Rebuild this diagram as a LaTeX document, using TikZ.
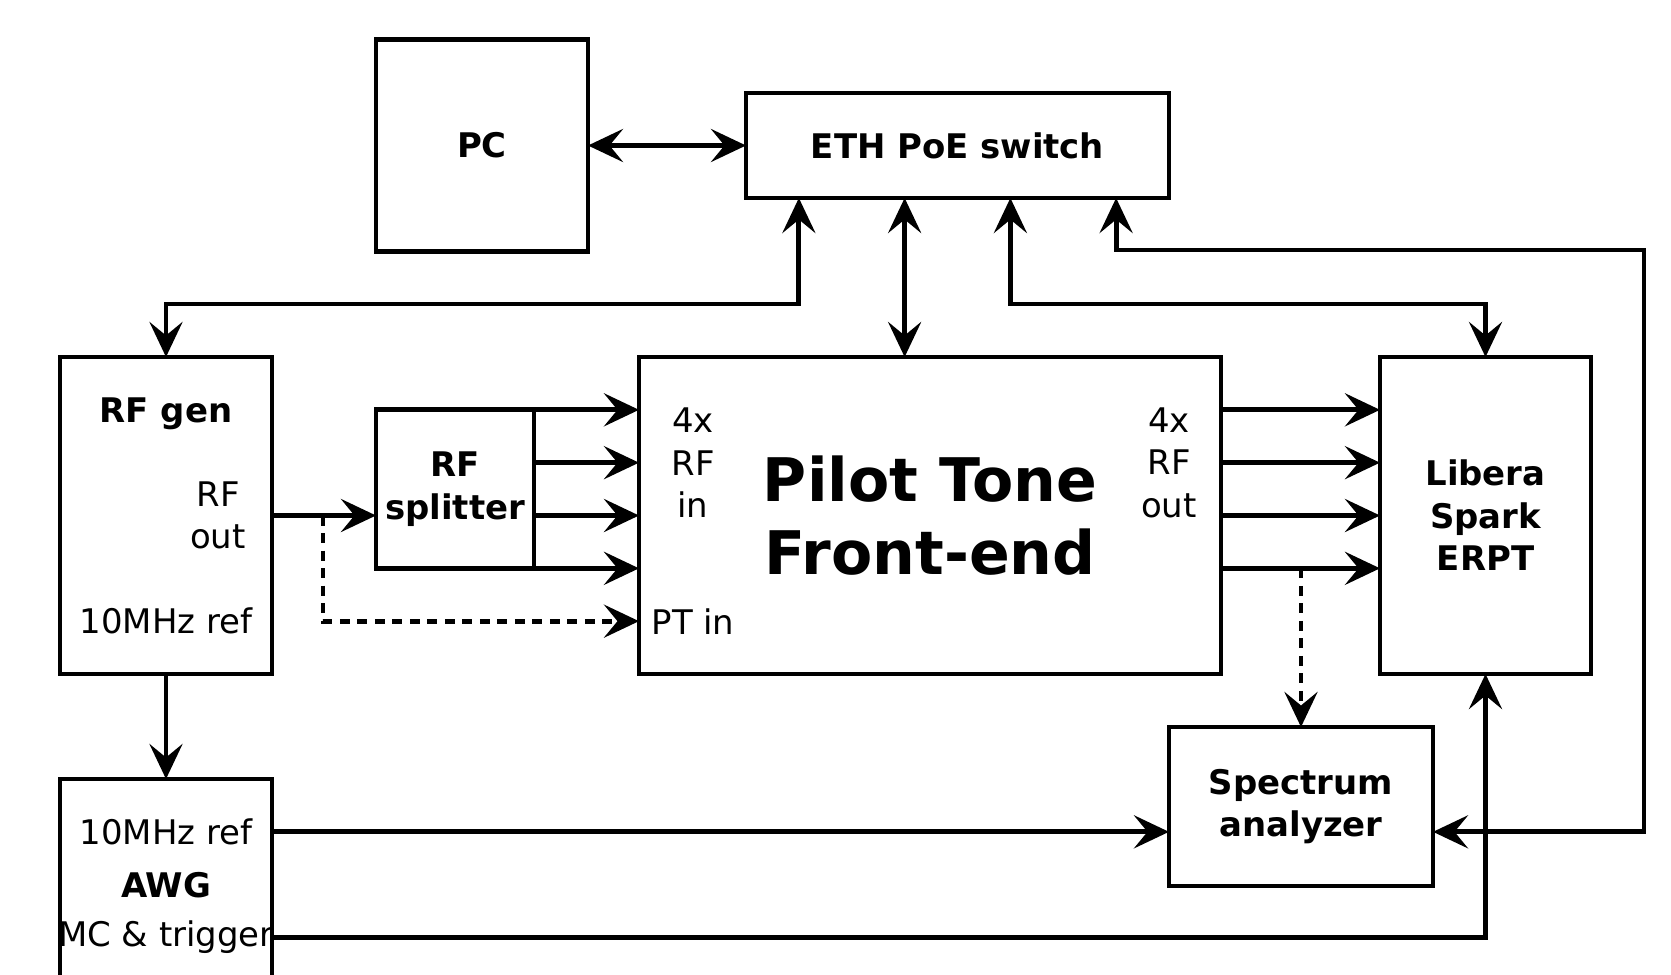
\documentclass[tikz,border=0pt]{standalone}
\usepackage{fontspec}
\setmainfont{DejaVu Sans}
\usetikzlibrary{arrows.meta,positioning,calc}
\newcommand{\txtsize}{\fontsize{19.3}{24.2}\selectfont}
\newcommand{\bigsize}{\fontsize{34.2}{41.8}\selectfont}

\begin{document}
\begin{tikzpicture}[font=\txtsize, line width=2.8pt,
    blk/.style={draw=black,minimum width=4.24cm,minimum height=6.34cm,
      inner sep=0pt,outer sep=0pt,align=center,font=\txtsize\bfseries},
    lbl/.style={inner sep=0pt,align=center},
    bold/.style={font=\txtsize\bfseries},
    arr/.style={-{Stealth[length=0.7cm,width=0.66cm,inset=0.27cm]}},
    biarr/.style={{Stealth[length=0.7cm,width=0.66cm,inset=0.27cm]}-{Stealth[length=0.7cm,width=0.66cm,inset=0.27cm]}},
    dasharr/.style={arr,dash pattern=on 0.2cm off 0.15cm}]
  \useasboundingbox (0,0) rectangle (33.42,-19.48);
  % boxes
  \node[blk] (rfgen) at (3.32,-10.31) {};
  \node[blk, minimum width=11.64cm, right=7.34cm of rfgen, font=\bigsize\bfseries] (pt) {Pilot Tone\\Front-end};
  \node[blk, minimum width=4.22cm, right=3.18cm of pt] (libera) {Libera\\Spark\\ERPT};
  \node[blk, minimum width=3.16cm, minimum height=3.17cm, anchor=north west] (split)
    at ($(rfgen.north east)+(2.08,-1.057)$) {RF\\splitter};
  \node[blk, minimum width=8.46cm, minimum height=2.1cm, above=3.18cm of pt, xshift=0.55cm] (eth) {ETH PoE switch};
  \node[blk, minimum height=4.24cm, left=3.16cm of eth] (pc) {PC};
  \node[blk, below=2.1cm of rfgen] (awg) {};
  \node[blk, minimum width=5.28cm, minimum height=3.18cm, anchor=north west] (spec)
    at ($(pt.south east)+(-1.04,-1.06)$) {Spectrum\\analyzer};
  % labels inside boxes
  \node[lbl, bold] (rfgenname) at ($(rfgen.north)!1/6!(rfgen.south)+(0,-0.08)$) {RF gen};
  \node[lbl] (rfout) at ($(rfgen.east)+(-1.08,0)$) {RF\\out};
  \node[lbl] (rfref) at ($(rfgen.north)!5/6!(rfgen.south)$) {10MHz ref};
  \node[lbl] (awgref) at ($(awg.north)!1/6!(awg.south)$) {10MHz ref};
  \node[lbl, bold] (awgname) at ($(awg.north)!2/6!(awg.south)$) {AWG};
  \node[lbl] (awgtrig) at (awg.center) {MC \& trigger};
  \node[lbl] (rfin) at ($(pt.north west)!1/3!(pt.south west)+(1.08,0)$) {4x\\RF\\in};
  \node[lbl] (ptin) at ($(pt.north west)!5/6!(pt.south west)+(1.08,0)$) {PT in};
  \node[lbl] (rfoutpt) at ($(pt.north east)!1/3!(pt.south east)+(-1.04,0)$) {4x\\RF\\out};
  % ports
  \foreach \i/\f in {1/0.125,2/0.375,3/0.625,4/0.875}
    \coordinate (e\i) at ($(eth.south west)!\f!(eth.south east)$);
  \foreach \i in {1,...,4} {
    \coordinate (pin\i) at ($(pt.north west)!\i/6!(pt.south west)$);
    \coordinate (pout\i) at ($(pt.north east)!\i/6!(pt.south east)$);
    \draw[arr] (pin\i -| split.east) -- (pin\i);
    \draw[arr] (pout\i) -- (pout\i -| libera.west);
  }
  \coordinate (tap) at ($(rfgen.east)+(1.02,0)$);
  \coordinate (ptport) at ($(pt.north west)!5/6!(pt.south west)$);
  % ethernet
  \draw[biarr] (pc) -- (eth);
  \draw[biarr] (e1) -- ++(0,-2.12) -| (rfgen.north);
  \draw[biarr] (e2) -- (e2 |- pt.north);
  \draw[biarr] (e3) -- ++(0,-2.12) -| (libera.north);
  \draw[biarr] (e4) -- ++(0,-1.04) -| ($(libera.east |- awgref)+(1.06,0)$) -- (awgref -| spec.east);
  % rf and reference
  \draw[arr] (rfgen.east) -- (rfgen.east -| split.west);
  \draw[dasharr] (tap) |- (ptport);
  \draw[dasharr] (pout4 -| spec.north) -- (spec.north);
  \draw[arr] (rfgen) -- (awg);
  \draw[arr] (awgref -| awg.east) -- (awgref -| spec.west);
  \draw[arr] (awg.east) -| (libera.south);
\end{tikzpicture}
\end{document}
